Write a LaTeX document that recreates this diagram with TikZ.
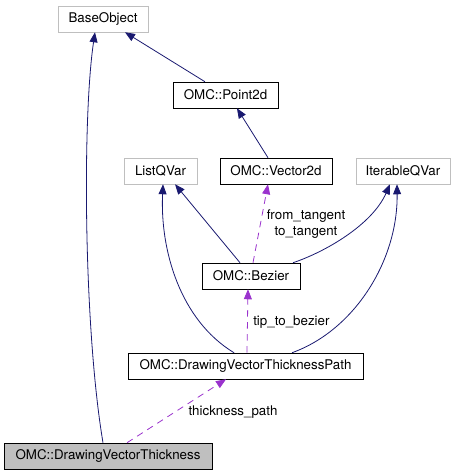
\documentclass[tikz,border=0pt]{standalone}
\usepackage{fontspec}
\setmainfont{TeX Gyre Heros}
\usetikzlibrary{arrows.meta}
\definecolor{navy}{HTML}{191970}
\definecolor{orchid}{HTML}{9A32CD}
\definecolor{boxgray}{HTML}{BFBFBF}
\tikzset{
  cls/.style={draw=black, minimum height=19.5pt, inner sep=0pt, font=\fontsize{10}{12}\selectfont},
  extcls/.style={cls, draw=boxgray},
  curcls/.style={cls, fill=boxgray},
  inh/.style={navy, line width=0.6pt, -{Triangle[length=7.5pt,width=6pt]}},
  use/.style={orchid, line width=0.6pt, dash pattern=on 5pt off 4pt, -{Triangle[length=7.5pt,width=6pt]}},
  lbl/.style={font=\fontsize{10}{12}\selectfont, align=center, inner sep=0pt}
}
\begin{document}
\begin{tikzpicture}[x=0.75pt, y=-0.75pt]
  \useasboundingbox (0,0) rectangle (455,475);
  % classi
  \node[extcls, minimum width=67.5pt] (base) at (103,19) {BaseObject};
  \node[cls, minimum width=78.75pt] (point) at (225.5,95) {OMC::Point2d};
  \node[extcls, minimum width=54.75pt] (list) at (160.5,171) {ListQVar};
  \node[cls, minimum width=84pt] (vec) at (276,171) {OMC::Vector2d};
  \node[extcls, minimum width=70.5pt] (iter) at (403,171) {IterableQVar};
  \node[cls, minimum width=73.5pt] (bez) at (251,276) {OMC::Bezier};
  \node[cls, minimum width=176.25pt] (path) at (245.5,366) {OMC::DrawingVectorThicknessPath};
  \node[curcls, minimum width=156pt] (thick) at (108,456) {OMC::DrawingVectorThickness};
  % ereditarieta
  \draw[inh] ([xshift=-15.4pt]point.north) -- ([xshift=16.5pt]base.south);
  \draw[inh] ([xshift=-3.75pt]thick.north) .. controls (84,330) and (82,120) .. ([xshift=-6pt]base.south);
  \draw[inh] ([xshift=-6pt]vec.north) -- ([xshift=8.6pt]point.south);
  \draw[inh] ([xshift=-8.25pt]bez.north) -- ([xshift=10.9pt]list.south);
  \draw[inh] ([xshift=31.5pt]bez.north) .. controls (325,252) and (372,225) .. ([xshift=-9.75pt]iter.south);
  \draw[inh] ([xshift=-8.6pt]path.north) .. controls (180,320) and (160,250) .. ([xshift=1.9pt]list.south);
  \draw[inh] ([xshift=34.9pt]path.north) .. controls (355,330) and (398,260) .. ([xshift=-4.5pt]iter.south);
  % membri usati
  \draw[use] ([xshift=1.5pt]bez.north) -- ([xshift=-6pt]vec.south);
  \node[lbl] (lbltan) at (306,224.5) {from\_tangent\\to\_tangent};
  \draw[use] ([xshift=1.1pt]path.north) -- ([xshift=-2.25pt]bez.south);
  \node[lbl, anchor=west] (lbltip) at (253,322) {tip\_to\_bezier};
  \draw[use] ([xshift=14.25pt]thick.north) -- ([xshift=-14.6pt]path.south);
  \node[lbl] (lblpath) at (233,412) {thickness\_path};
\end{tikzpicture}
\end{document}
